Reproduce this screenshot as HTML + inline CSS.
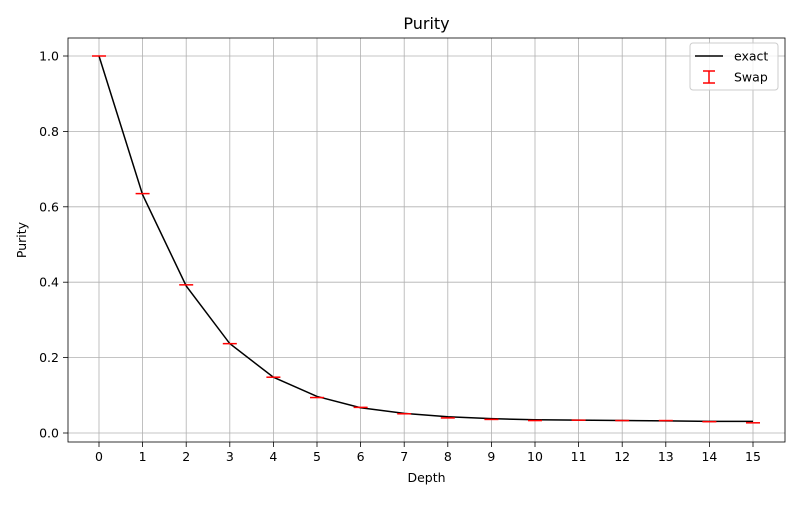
<!DOCTYPE html>
<html><head><meta charset="utf-8"><style>body{margin:0;background:#fff}svg text{font-family:"DejaVu Sans","Liberation Sans",sans-serif}</style></head>
<body><svg id="c" width="800" height="500"></svg>
<script>
const depths=[0,1,2,3,4,5,6,7,8,9,10,11,12,13,14,15];
const exactVals=[1,0.632,0.39,0.237,0.148,0.097,0.067,0.052,0.043,0.038,0.035,0.034,0.033,0.032,0.031,0.031];
const swapVals=[1,0.635,0.393,0.237,0.148,0.094,0.068,0.051,0.040,0.036,0.033,0.034,0.033,0.033,0.030,0.027];
const yTicks=[0,0.2,0.4,0.6,0.8,1.0];
const L=68,R=785,T=38,B=442;
const xs=d=>99+d*(753-99)/15;
const ys=v=>433-v*377;
const svg=document.getElementById('c');const NS='http://www.w3.org/2000/svg';
function mk(tag,attrs,parent,text){const e=document.createElementNS(NS,tag);for(const k in attrs)e.setAttribute(k,attrs[k]);if(text!==undefined)e.textContent=text;(parent||svg).appendChild(e);return e;}
depths.forEach(d=>{const g=mk('line',{x1:xs(d),x2:xs(d),y1:T,y2:B,stroke:'#b0b0b0','stroke-width':0.8});

mk('line',{x1:xs(d),x2:xs(d),y1:B,y2:B+5,stroke:'#000','stroke-width':0.8});
const l=mk('text',{x:xs(d),y:B+19,'text-anchor':'middle','font-size':12.5},null,String(d));
});
yTicks.forEach(v=>{const g=mk('line',{x1:L,x2:R,y1:ys(v),y2:ys(v),stroke:'#b0b0b0','stroke-width':0.8});

mk('line',{x1:L-5,x2:L,y1:ys(v),y2:ys(v),stroke:'#000','stroke-width':0.8});
const l=mk('text',{x:L-9,y:ys(v)+4.5,'text-anchor':'end','font-size':12.5},null,v.toFixed(1));
});
const line=mk('polyline',{points:depths.map((d,i)=>xs(d)+','+ys(exactVals[i])).join(' '),fill:'none',stroke:'#000','stroke-width':1.5});

depths.forEach((d,i)=>{const c=mk('line',{x1:xs(d)-7,x2:xs(d)+7,y1:ys(swapVals[i]),y2:ys(swapVals[i]),stroke:'red','stroke-width':1.5});
});
const f=mk('rect',{x:L,y:T,width:R-L,height:B-T,fill:'none',stroke:'#000','stroke-width':0.8});

const ti=mk('text',{x:(L+R)/2,y:29,'text-anchor':'middle','font-size':16},null,'Purity');

const xl=mk('text',{x:(L+R)/2,y:482,'text-anchor':'middle','font-size':12.5},null,'Depth');

const yl=mk('text',{x:26,y:(T+B)/2,'text-anchor':'middle','font-size':12.5,transform:'rotate(-90 26 '+(T+B)/2+')'},null,'Purity');

const lg=mk('g',{});
mk('rect',{x:690,y:43,width:88,height:47,rx:3,fill:'#fff','fill-opacity':0.8,stroke:'#ccc'},lg);
mk('line',{x1:695,x2:723,y1:56,y2:56,stroke:'#000','stroke-width':1.5},lg);
const e1=mk('text',{x:734,y:60.5,'font-size':12.5},lg,'exact');
mk('line',{x1:709,x2:709,y1:71,y2:83,stroke:'red','stroke-width':1.5},lg);
mk('line',{x1:703,x2:715,y1:71,y2:71,stroke:'red','stroke-width':1.5},lg);
mk('line',{x1:703,x2:715,y1:83,y2:83,stroke:'red','stroke-width':1.5},lg);
const e2=mk('text',{x:734,y:81.5,'font-size':12.5},lg,'Swap');
</script></body></html>
